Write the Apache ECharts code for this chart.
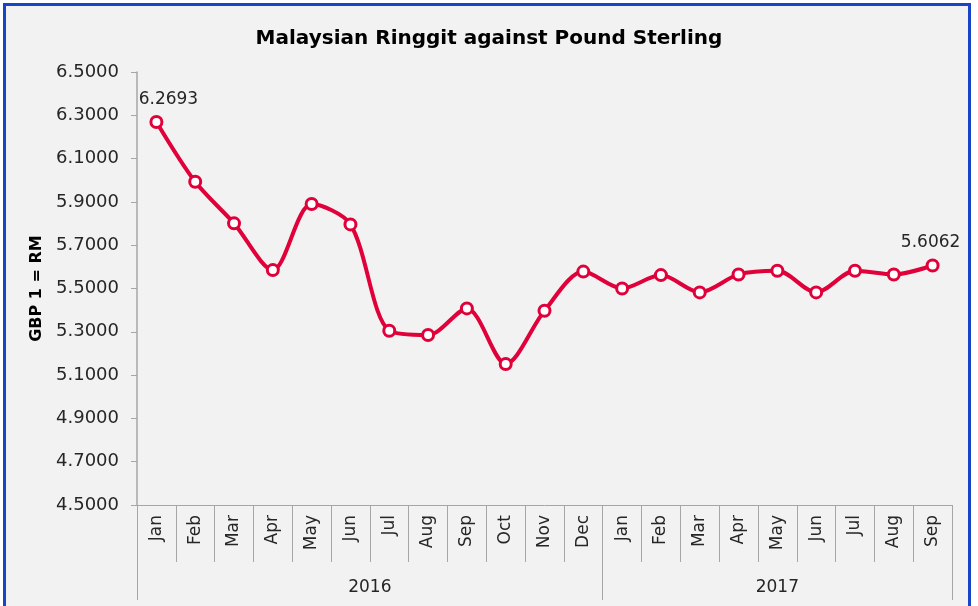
<!DOCTYPE html>
<html>
<head>
<meta charset="utf-8">
<script src="https://cdn.jsdelivr.net/npm/echarts@6/dist/echarts.min.js"></script>
<style>
  html, body { margin: 0; padding: 0; background: #fff; }
  #main { width: 978px; height: 606px; }
</style>
</head>
<body>
<div id="main"></div>
<script>
// data
var months = ['Jan', 'Feb', 'Mar', 'Apr', 'May', 'Jun', 'Jul', 'Aug', 'Sep', 'Oct', 'Nov', 'Dec',
  'Jan', 'Feb', 'Mar', 'Apr', 'May', 'Jun', 'Jul', 'Aug', 'Sep'];
var rates = [6.2693, 5.993, 5.801, 5.585, 5.890, 5.796, 5.305, 5.285, 5.408, 5.151, 5.397, 5.578,
  5.500, 5.562, 5.482, 5.565, 5.582, 5.482, 5.582, 5.565, 5.6062];
var years = ['2016', '2017'];
var yearBounds = [0, 12, 21];      // year groups in category units
var yTicks = [4.5, 4.7, 4.9, 5.1, 5.3, 5.5, 5.7, 5.9, 6.1, 6.3, 6.5];

var fontFam = 'DejaVu Sans';
var red = '#e0003a';

var chart = echarts.init(document.getElementById('main'));

var seriesData = rates.map(function (v, i) {
  var item = { value: v };
  if (i === 0) {
    item.label = { show: true, position: 'top', offset: [12, -2] };
  } else if (i === rates.length - 1) {
    item.label = { show: true, position: 'top', offset: [-2, -2] };
  }
  return item;
});

var yearLabelPos = years.map(function (y, i) {
  return (yearBounds[i] + yearBounds[i + 1]) / 2;
});

var option = {
  backgroundColor: '#fff',
  animation: false,
  graphic: [{
    type: 'rect',
    z: -10,
    shape: { x: 4.5, y: 4.5, width: 965, height: 700 },
    style: { fill: '#f2f2f2', stroke: '#1a44c8', lineWidth: 3 }
  }],
  title: {
    text: 'Malaysian Ringgit against Pound Sterling',
    left: 'center',
    top: 24,
    textStyle: { fontFamily: fontFam, fontSize: 20, fontWeight: 'bold', color: '#000' }
  },
  grid: { left: 137, right: 26, top: 72, bottom: 101 },
  xAxis: [{
    type: 'category',
    data: months,
    boundaryGap: true,
    axisLine: { show: true, lineStyle: { color: '#a6a6a6', width: 1 } },
    axisTick: { show: true, length: 57, interval: 0, lineStyle: { color: '#a6a6a6' } },
    axisLabel: {
      rotate: 90, interval: 0, margin: 10,
      fontFamily: fontFam, fontSize: 17, color: '#262626'
    },
    splitLine: { show: false }
  }, {
    type: 'value',
    position: 'bottom',
    min: 0,
    max: 21,
    axisLine: { show: false },
    axisTick: {
      show: true, length: 95, customValues: yearBounds,
      lineStyle: { color: '#a6a6a6' }
    },
    axisLabel: {
      customValues: yearLabelPos,
      margin: 74,
      fontFamily: fontFam, fontSize: 17, color: '#262626',
      formatter: function (v) {
        return v < yearBounds[1] ? years[0] : years[1];
      }
    },
    splitLine: { show: false }
  }],
  yAxis: {
    type: 'value',
    min: 4.5,
    max: 6.5,
    name: 'GBP 1 = RM',
    nameLocation: 'middle',
    nameGap: 92,
    nameTextStyle: { fontFamily: fontFam, fontSize: 16, fontWeight: 'bold', color: '#000' },
    axisLine: { show: true, lineStyle: { color: '#a6a6a6', width: 1.5 } },
    axisTick: { show: true, length: 6, customValues: yTicks, lineStyle: { color: '#a6a6a6' } },
    axisLabel: {
      customValues: yTicks,
      margin: 18,
      fontFamily: fontFam, fontSize: 18, color: '#262626',
      formatter: function (v) { return v.toFixed(4); }
    },
    splitLine: { show: false }
  },
  series: [{
    type: 'line',
    xAxisIndex: 0,
    data: seriesData,
    smooth: 0.3,
    symbol: 'circle',
    symbolSize: 11,
    showAllSymbol: true,
    lineStyle: { color: red, width: 4 },
    itemStyle: { color: '#fff', borderColor: red, borderWidth: 3 },
    label: {
      show: false,
      fontFamily: fontFam, fontSize: 17, color: '#262626',
      formatter: function (p) { return p.value.toFixed(4); }
    }
  }]
};
chart.setOption(option);
</script>
</body>
</html>
